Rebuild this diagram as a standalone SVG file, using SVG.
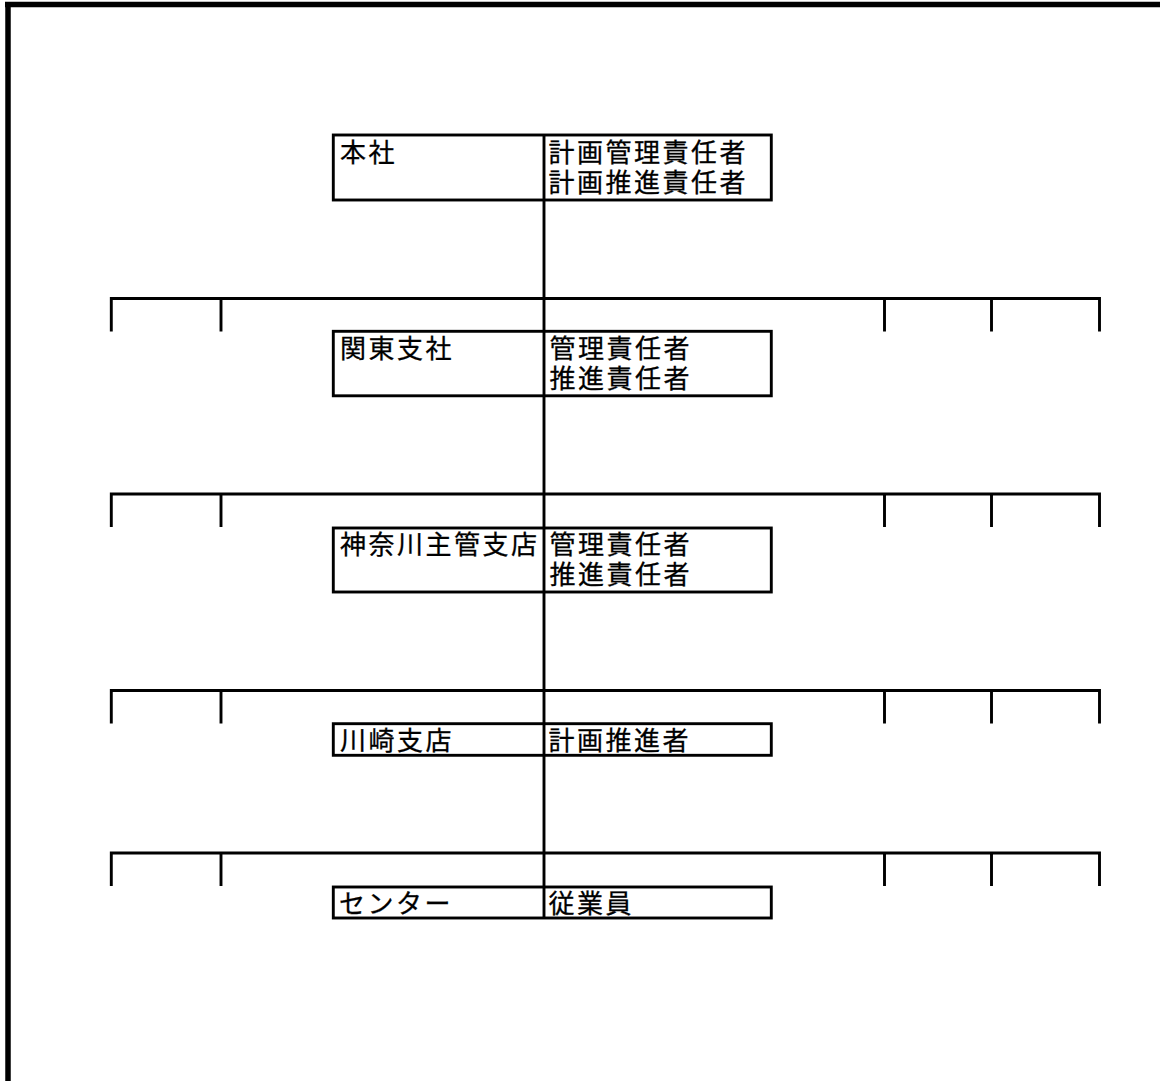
<svg xmlns="http://www.w3.org/2000/svg" width="1160" height="1081" viewBox="0 0 1160 1081">
<style>
.ln{stroke:#000;stroke-width:2.9;fill:none}
.bx{stroke:#000;stroke-width:2.9;fill:#fff}
.bd{stroke:#000;stroke-width:5.5;fill:none}
text{font-family:"Noto Sans CJK JP","Noto Sans CJK SC",sans-serif;font-size:26px;letter-spacing:2.5px;fill:#000;stroke:#000;stroke-width:0.3}
</style>
<rect width="1160" height="1081" fill="#fff"/>
<g id="frame">
<line class="bd" x1="8" y1="2" x2="8" y2="1081"/>
<line class="bd" x1="5" y1="4.5" x2="1160" y2="4.5"/>
</g>
<g id="connectors">
<line class="ln" x1="544" y1="135" x2="544" y2="918"/>
<path class="ln" d="M111.3,331.5 V298.5 H1099.5 V331.5 M221,298.5 V331.5 M884.5,298.5 V331.5 M991.5,298.5 V331.5"/>
<path class="ln" d="M111.3,527 V494 H1099.5 V527 M221,494 V527 M884.5,494 V527 M991.5,494 V527"/>
<path class="ln" d="M111.3,723.5 V690.5 H1099.5 V723.5 M221,690.5 V723.5 M884.5,690.5 V723.5 M991.5,690.5 V723.5"/>
<path class="ln" d="M111.3,886 V853 H1099.5 V886 M221,853 V886 M884.5,853 V886 M991.5,853 V886"/>
</g>
<g id="node-honsha">
<rect class="bx" x="333.3" y="135" width="438" height="65"/>
<line class="ln" x1="544" y1="135" x2="544" y2="200"/>
<text x="340" y="162">本社</text>
<text x="548.5" y="162">計画管理責任者</text>
<text x="548.5" y="191.5">計画推進責任者</text>
</g>
<g id="node-kanto">
<rect class="bx" x="333.3" y="331.3" width="438" height="64.5"/>
<line class="ln" x1="544" y1="331.3" x2="544" y2="395.8"/>
<text x="340" y="358">関東支社</text>
<text x="549.5" y="358">管理責任者</text>
<text x="549.5" y="388">推進責任者</text>
</g>
<g id="node-kanagawa">
<rect class="bx" x="333.3" y="528" width="438" height="64"/>
<line class="ln" x1="544" y1="528" x2="544" y2="592"/>
<text x="340" y="554">神奈川主管支店</text>
<text x="549.5" y="554">管理責任者</text>
<text x="549.5" y="584">推進責任者</text>
</g>
<g id="node-kawasaki">
<rect class="bx" x="333.3" y="723.7" width="438" height="31.6"/>
<line class="ln" x1="544" y1="723.7" x2="544" y2="755.3"/>
<text x="340" y="749.5">川崎支店</text>
<text x="548.5" y="749.5">計画推進者</text>
</g>
<g id="node-center">
<rect class="bx" x="333.3" y="887" width="438" height="31"/>
<line class="ln" x1="544" y1="887" x2="544" y2="918"/>
<text x="339" y="912.5">センター</text>
<text x="548.5" y="912.5">従業員</text>
</g>
</svg>
